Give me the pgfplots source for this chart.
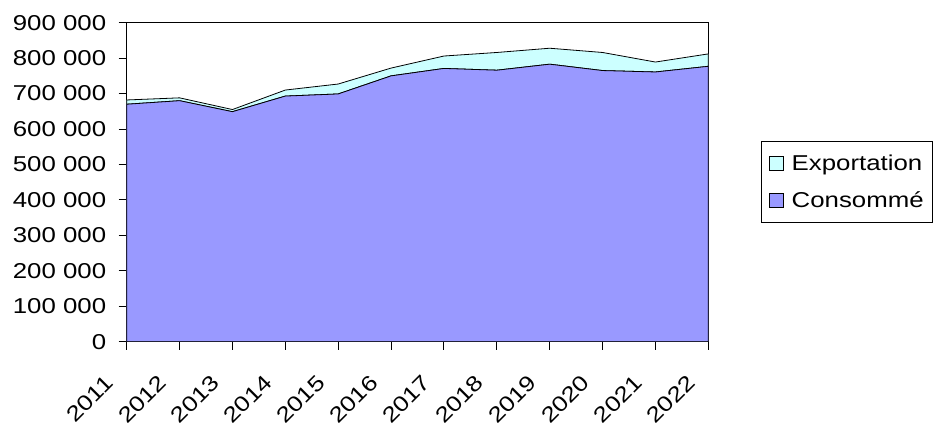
\documentclass[border=0pt]{standalone}
\usepackage{pgfplots}
\pgfplotsset{compat=1.18}
\usepackage{fontspec}
\setmainfont[FakeStretch=1.2]{Liberation Sans}
\definecolor{cons}{HTML}{9999FF}
\definecolor{expo}{HTML}{CCFFFF}
\begin{document}
\begin{tikzpicture}
\begin{axis}[
  at={(0,0)}, anchor=south west,
  scale only axis, width=581.6pt, height=319pt,
  xmin=0, xmax=11, ymin=0, ymax=900000,
  scaled y ticks=false,
  xtick={0,...,11},
  xticklabels={2011,2012,2013,2014,2015,2016,2017,2018,2019,2020,2021,2022},
  ytick={0,100000,...,900000},
  yticklabels={0,100 000,200 000,300 000,400 000,500 000,600 000,700 000,800 000,900 000},
  tick align=outside, major tick length=8pt,
  xtick pos=bottom, ytick pos=left,
  axis line style={black, line width=0.9pt},
  tick style={black, line width=0.9pt},
  ticklabel style={font=\fontsize{21.5}{25}\selectfont},
  yticklabel style={xshift=-9pt},
  xticklabel style={xshift=-17pt, yshift=-29pt, rotate=45, anchor=east, inner sep=0pt},
  stack plots=y,
  reverse legend,
  legend style={at={(1.0901,0.629)}, anchor=north west, draw=black, line width=0.8pt,
    font=\fontsize{21.5}{25}\selectfont, inner xsep=8pt, inner ysep=12.5pt,
    row sep=18pt, nodes={inner sep=1pt},
    /tikz/every odd column/.append style={column sep=7pt}},
  legend cell align=left,
  legend image code/.code={\draw[#1, draw=black, line width=0.6pt] (0pt,-7pt) rectangle (14pt,7pt);},
]
\addplot[fill=cons, draw=black, line width=0.8pt] coordinates {
(0,670000) (1,680000) (2,649000) (3,693000) (4,699000) (5,750000)
(6,771000) (7,766000) (8,783000) (9,765000) (10,761000) (11,777000)} \closedcycle;
\addlegendentry{Consommé}
\addplot[fill=expo, draw=black, line width=0.8pt] coordinates {
(0,12000) (1,8000) (2,6000) (3,17000) (4,28000) (5,22000)
(6,35000) (7,50000) (8,45000) (9,51000) (10,28000) (11,35000)} \closedcycle;
\addlegendentry{Exportation}
\end{axis}
\pgfresetboundingbox
\path[use as bounding box] (-126.7pt,-85.3pt) rectangle (814.3pt,341.7pt);
\end{tikzpicture}
\end{document}
